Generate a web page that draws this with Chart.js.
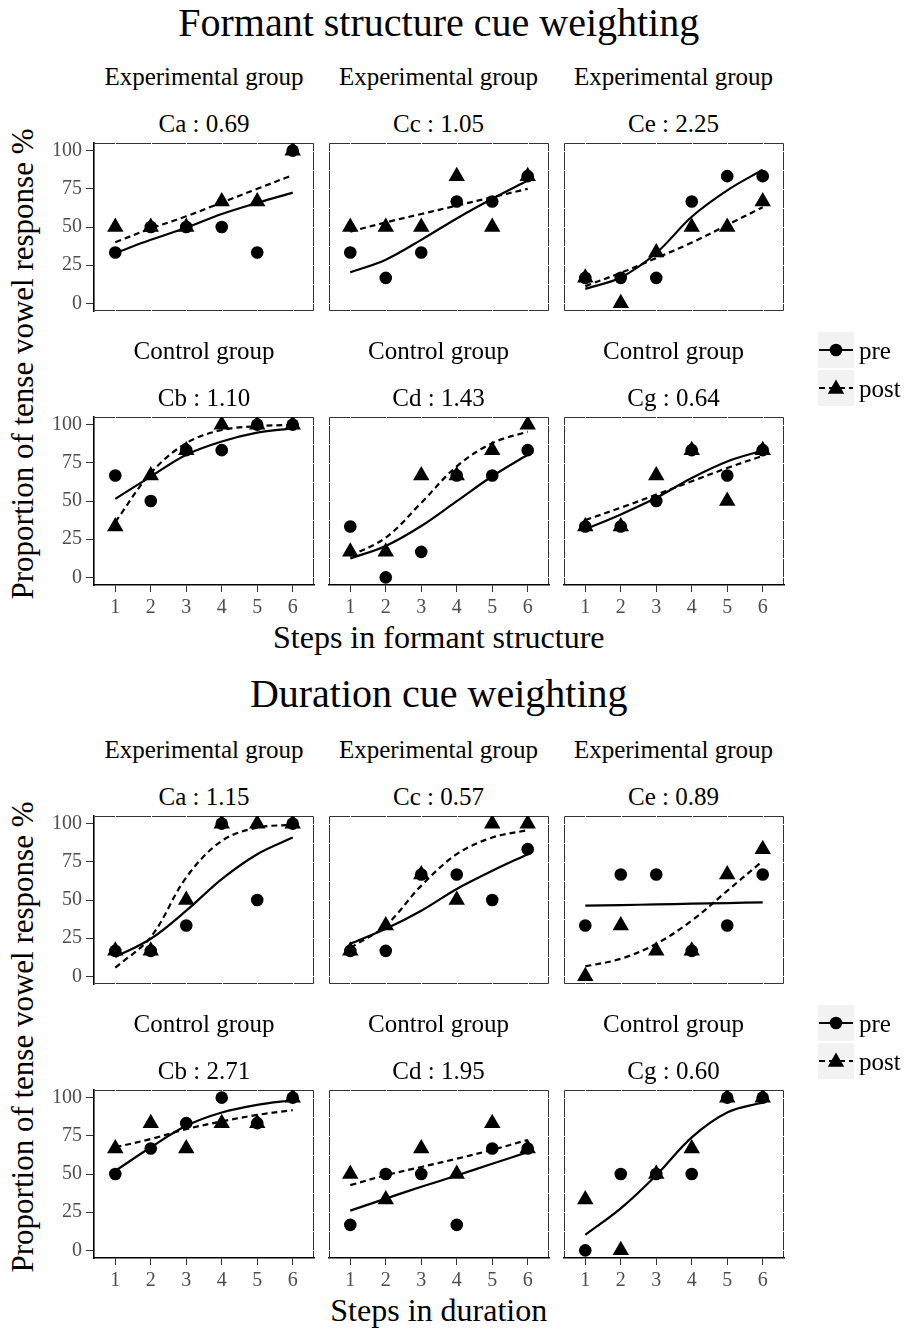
<!DOCTYPE html>
<html>
<head>
<meta charset="utf-8">
<title>Cue weighting</title>
<script src="https://cdn.jsdelivr.net/npm/chart.js@4.4.1/dist/chart.umd.min.js"></script>
<style>
  body { margin: 0; background: #fff; }
  #page { position: relative; width: 909px; height: 1329px; overflow: hidden;
          font-family: "Liberation Serif", "DejaVu Serif", serif; color: #000; }
  .txt { position: absolute; white-space: nowrap; line-height: 1; transform: translate(-50%, -50%); }
  .ttl { font-size: 40px; }
  .strip { font-size: 25px; }
  .axt { font-size: 32px; }
  .ylab { font-size: 31px; transform: translate(-50%, -50%) rotate(-90deg); }
  .panel { position: absolute; }
  .key { position: absolute; width: 36px; height: 36px; background: #f2f2f2; }
  .keytxt { position: absolute; font-size: 25px; line-height: 1; transform: translateY(-50%); }
</style>
</head>
<body>
<div id="page"></div>
<script>
// steps on the continuum and axis breaks
const steps = [1, 2, 3, 4, 5, 6];
const yTicks = [0, 25, 50, 75, 100];
const yGrid = [0, 12.5, 25, 37.5, 50, 62.5, 75, 87.5, 100];

const groups = ['Experimental group', 'Experimental group', 'Experimental group',
                'Control group', 'Control group', 'Control group'];

// formant structure
const formantLabels = ['Ca : 0.69', 'Cc : 1.05', 'Ce : 2.25', 'Cb : 1.10', 'Cd : 1.43', 'Cg : 0.64'];
const formantCaPre = [33.3, 50, 50, 50, 33.3, 100];
const formantCaPost = [50, 50, 50, 66.7, 66.7, 100];
const formantCaPreFit = [33, 41.6, 49.5, 58.5, 65.8, 72.5];
const formantCaPostFit = [40, 49, 57, 66, 75, 84];
const formantCcPre = [33.3, 16.7, 33.3, 66.7, 66.7, 83.3];
const formantCcPost = [50, 50, 50, 83.3, 50, 83.3];
const formantCcPreFit = [20.3, 28.6, 41.6, 55.6, 68.5, 80.5];
const formantCcPostFit = [47, 53, 58.5, 64, 69.5, 75];
const formantCePre = [16.7, 16.7, 16.7, 66.7, 83.3, 83.3];
const formantCePost = [16.7, 0, 33.3, 50, 50, 66.7];
const formantCePreFit = [9.5, 17, 33, 56.7, 74, 87.5];
const formantCePostFit = [11.3, 20, 29.7, 39.8, 51.3, 63];
const formantCbPre = [66.7, 50, 83.3, 83.3, 100, 100];
const formantCbPost = [33.3, 66.7, 83.3, 100, 100, 100];
const formantCbPreFit = [51.4, 66, 80.3, 89, 94.8, 97.6];
const formantCbPostFit = [36.2, 68.3, 87.9, 96.5, 99, 99.8];
const formantCdPre = [33.3, 0, 16.7, 66.7, 66.7, 83.3];
const formantCdPost = [16.7, 16.7, 66.7, 66.7, 83.3, 100];
const formantCdPreFit = [12.4, 20.6, 33.6, 49.9, 66.2, 80.3];
const formantCdPostFit = [14, 26, 48.8, 72.7, 87.9, 95.4];
const formantCgPre = [33.3, 33.3, 50, 83.3, 66.7, 83.3];
const formantCgPost = [33.3, 33.3, 66.7, 83.3, 50, 83.3];
const formantCgPreFit = [31.4, 41.2, 52.1, 65.1, 75.9, 83.1];
const formantCgPostFit = [37.5, 45.6, 54.2, 62.9, 71.6, 79.6];

// duration
const durationLabels = ['Ca : 1.15', 'Cc : 0.57', 'Ce : 0.89', 'Cb : 2.71', 'Cd : 1.95', 'Cg : 0.60'];
const durationCaPre = [16.7, 16.7, 33.3, 100, 50, 100];
const durationCaPost = [16.7, 16.7, 50, 100, 100, 100];
const durationCaPreFit = [12.6, 24.6, 43, 63.7, 80, 90.9];
const durationCaPostFit = [5.7, 25.7, 64.8, 88.7, 97.4, 99.2];
const durationCcPre = [16.7, 16.7, 66.7, 66.7, 50, 83.3];
const durationCcPost = [16.7, 33.3, 66.7, 50, 100, 100];
const durationCcPreFit = [21.3, 31.1, 43, 57.2, 69.1, 80];
const durationCcPostFit = [18.7, 33.3, 59.4, 80, 90.9, 95.7];
const durationCePre = [33.3, 66.7, 66.7, 16.7, 33.3, 66.7];
const durationCePost = [0, 33.3, 16.7, 16.7, 66.7, 83.3];
const durationCePreFit = [46.3, 46.7, 47.1, 47.6, 48, 48.5];
const durationCePostFit = [6.5, 11.5, 21.3, 36.5, 56, 75.6];
const durationCbPre = [50, 66.7, 83.3, 100, 83.3, 100];
const durationCbPost = [66.7, 83.3, 66.7, 83.3, 83.3, 100];
const durationCbPreFit = [52, 67.5, 81.6, 90.3, 95.3, 98.3];
const durationCbPostFit = [67.5, 72.9, 79.4, 84.4, 88.7, 91.8];
const durationCdPre = [16.7, 50, 50, 16.7, 66.7, 66.7];
const durationCdPost = [50, 33.3, 66.7, 50, 83.3, 66.7];
const durationCdPreFit = [26, 33.9, 41.6, 49, 56.7, 64.3];
const durationCdPostFit = [42.7, 49.2, 54.6, 60, 65.8, 72.3];
const durationCgPre = [0, 50, 50, 50, 100, 100];
const durationCgPost = [33.3, 0, 50, 66.7, 100, 100];
const durationCgPreFit = [10.2, 27.5, 49.2, 74, 90.3, 96.8];

const figures = [
  { title: 'Formant structure cue weighting', xTitle: 'Steps in formant structure',
    titleY: 23, xTitleY: 637, top: [143, 417], labels: formantLabels,
    panels: [
      [formantCaPre, formantCaPost, formantCaPreFit, formantCaPostFit],
      [formantCcPre, formantCcPost, formantCcPreFit, formantCcPostFit],
      [formantCePre, formantCePost, formantCePreFit, formantCePostFit],
      [formantCbPre, formantCbPost, formantCbPreFit, formantCbPostFit],
      [formantCdPre, formantCdPost, formantCdPreFit, formantCdPostFit],
      [formantCgPre, formantCgPost, formantCgPreFit, formantCgPostFit]
    ] },
  { title: 'Duration cue weighting', xTitle: 'Steps in duration',
    titleY: 694, xTitleY: 1310, top: [816, 1090], labels: durationLabels,
    panels: [
      [durationCaPre, durationCaPost, durationCaPreFit, durationCaPostFit],
      [durationCcPre, durationCcPost, durationCcPreFit, durationCcPostFit],
      [durationCePre, durationCePost, durationCePreFit, durationCePostFit],
      [durationCbPre, durationCbPost, durationCbPreFit, durationCbPostFit],
      [durationCdPre, durationCdPost, durationCdPreFit, durationCdPostFit],
      [durationCgPre, durationCgPost, durationCgPreFit, null]
    ] }
];

const colLeft = [94, 328.5, 563.5];
const panelW = 220, panelH = 168;
const axisW = 60, axisH = 40, padTop = 4, padRight = 4;

const page = document.getElementById('page');

function addText(cls, text, x, y) {
  const d = document.createElement('div');
  d.className = 'txt ' + cls;
  d.textContent = text;
  d.style.left = x + 'px';
  d.style.top = y + 'px';
  page.appendChild(d);
  return d;
}

// thin panel frame, broken by the white grid lines like the ggplot theme
const panelFrame = {
  id: 'panelFrame',
  beforeDatasetsDraw(chart, args, opts) {
    const { ctx, chartArea: a, scales } = chart;
    const L = Math.round(a.left) + 0.5, R = Math.round(a.right) - 0.5;
    const T = Math.round(a.top) + 0.5, B = Math.round(a.bottom) - 0.5;
    ctx.save();
    ctx.strokeStyle = '#333';
    ctx.lineWidth = 1;
    ctx.beginPath();
    ctx.moveTo(L, T); ctx.lineTo(R, T); ctx.lineTo(R, B);
    if (!opts.bottomAxis) { ctx.moveTo(L, B); ctx.lineTo(R, B); }
    if (!opts.leftAxis) { ctx.moveTo(L, T); ctx.lineTo(L, B); }
    ctx.stroke();
    ctx.strokeStyle = '#fff';
    ctx.beginPath();
    steps.forEach(v => {
      const x = Math.round(scales.x.getPixelForValue(v)) + 0.5;
      ctx.moveTo(x, T - 2); ctx.lineTo(x, T + 2);
      if (!opts.bottomAxis) { ctx.moveTo(x, B - 2); ctx.lineTo(x, B + 2); }
    });
    yGrid.forEach(v => {
      const y = Math.round(scales.y.getPixelForValue(v)) + 0.5;
      ctx.moveTo(R - 2, y); ctx.lineTo(R + 2, y);
      if (!opts.leftAxis) { ctx.moveTo(L - 2, y); ctx.lineTo(L + 2, y); }
    });
    ctx.stroke();
    ctx.restore();
  }
};

// fixed axis boxes so every panel gets the same plotting area
function fixBox(s, size) {
  if (s.isHorizontal()) s.height = size; else s.width = size;
  s.paddingTop = 0; s.paddingBottom = 0;
  s.paddingLeft = 0; s.paddingRight = 0;
}

function toPoints(vals) {
  return steps.map((x, i) => ({ x: x, y: vals[i] }));
}

function makePanel(vals, col, rowTop, leftAxis, bottomAxis) {
  const [pre, post, preFit, postFit] = vals;
  const wrap = document.createElement('div');
  wrap.className = 'panel';
  wrap.style.left = (colLeft[col] - axisW) + 'px';
  wrap.style.top = (rowTop - padTop) + 'px';
  const cv = document.createElement('canvas');
  cv.width = axisW + panelW + padRight;
  cv.height = padTop + panelH + axisH;
  wrap.appendChild(cv);
  page.appendChild(wrap);

  const datasets = [
    { data: toPoints(post), pointStyle: 'triangle', pointRadius: 9.5,
      backgroundColor: '#000', borderWidth: 0, order: 1 },
    { data: toPoints(pre), pointStyle: 'circle', pointRadius: 6.3,
      backgroundColor: '#000', borderWidth: 0, order: 2 },
    { data: toPoints(preFit), showLine: true, pointRadius: 0, borderColor: '#000',
      borderWidth: 2.2, tension: 0.35, order: 3 }
  ];
  if (postFit) {
    datasets.push({ data: toPoints(postFit), showLine: true, pointRadius: 0, borderColor: '#000',
      borderWidth: 2.2, borderDash: [6, 4], tension: 0.35, order: 4 });
  }

  new Chart(cv, {
    type: 'scatter',
    data: { datasets: datasets },
    plugins: [panelFrame],
    options: {
      responsive: false,
      animation: false,
      devicePixelRatio: 1,
      layout: { autoPadding: false, padding: { top: padTop, right: padRight, left: 0, bottom: 0 } },
      plugins: { legend: { display: false }, tooltip: { enabled: false },
                 panelFrame: { leftAxis: leftAxis, bottomAxis: bottomAxis } },
      scales: {
        x: {
          type: 'linear', min: 0.4, max: 6.6,
          afterBuildTicks: s => { s.ticks = steps.map(v => ({ value: v })); },
          afterFit: s => fixBox(s, axisH),
          grid: { display: bottomAxis, drawOnChartArea: false, tickLength: 7, color: '#333' },
          border: { display: bottomAxis, color: '#000', width: 1.6 },
          ticks: { display: bottomAxis, padding: 4, color: '#4d4d4d',
                   font: { family: 'Liberation Serif', size: 20 } }
        },
        y: {
          min: -5, max: 105,
          afterBuildTicks: s => { s.ticks = yTicks.map(v => ({ value: v })); },
          afterFit: s => fixBox(s, axisW),
          grid: { display: leftAxis, drawOnChartArea: false, tickLength: 8, color: '#333' },
          border: { display: leftAxis, color: '#000', width: 1.6 },
          ticks: { display: leftAxis, padding: 4, color: '#4d4d4d',
                   font: { family: 'Liberation Serif', size: 20 } }
        }
      }
    }
  });
}

function keyBox(top, dashed, triangle) {
  const k = document.createElement('div');
  k.className = 'key';
  k.style.left = '818px';
  k.style.top = top + 'px';
  const mark = triangle
    ? '<polygon points="18,9.5 26.2,23.75 9.8,23.75" fill="#000"/>'
    : '<circle cx="18" cy="18" r="6.3" fill="#000"/>';
  k.innerHTML = '<svg width="36" height="36"><line x1="1" y1="18" x2="35" y2="18" stroke="#000" stroke-width="2.2"' +
    (dashed ? ' stroke-dasharray="6,4"' : '') + '/>' + mark + '</svg>';
  page.appendChild(k);
}

function keyText(text, y) {
  const t = document.createElement('div');
  t.className = 'keytxt';
  t.textContent = text;
  t.style.left = '859px';
  t.style.top = y + 'px';
  page.appendChild(t);
}

figures.forEach(fig => {
  const mid = colLeft[0] + (colLeft[2] + panelW - colLeft[0]) / 2;
  addText('ttl', fig.title, mid, fig.titleY);
  addText('axt', fig.xTitle, mid, fig.xTitleY);
  addText('ylab', 'Proportion of tense vowel response %', 22,
          (fig.top[0] + fig.top[1] + panelH) / 2);

  fig.panels.forEach((vals, i) => {
    const row = Math.floor(i / 3), col = i % 3;
    const top = fig.top[row];
    const cx = colLeft[col] + panelW / 2;
    addText('strip', groups[i], cx, top - 67);
    addText('strip', fig.labels[i], cx, top - 20.5);
    makePanel(vals, col, top, col === 0, row === 1);
  });

  const legTop = fig.top[1] - 85;
  keyBox(legTop, false, false);
  keyBox(legTop + 38, true, true);
  keyText('pre', legTop + 18);
  keyText('post', legTop + 56);
});
</script>
</body>
</html>
